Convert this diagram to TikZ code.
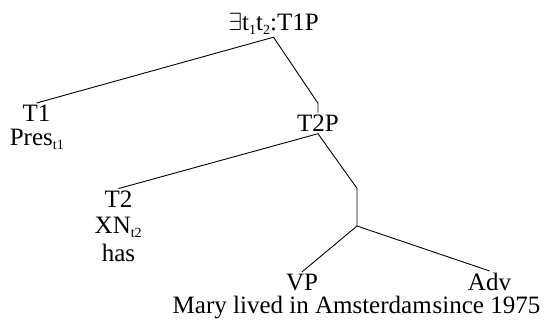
\documentclass[tikz,border=0pt]{standalone}
\usepackage{fontspec}
\setmainfont{Liberation Serif}
% small lowered index used in the labels
\newcommand\lowsub[1]{\raisebox{-4.5pt}{\fontsize{14}{14}\selectfont #1}}
\begin{document}
\begin{tikzpicture}[x=1pt,y=-1pt,
  lab/.style={font=\fontsize{25}{28}\selectfont, inner sep=2pt, anchor=base},
  branch/.style={line width=0.9pt, line join=miter}]
\useasboundingbox (0,0) rectangle (545,320);

% labels
\node[lab] (root) at (273.5,30.5) {$\exists$t\lowsub{1}t\lowsub{2}:T1P};
\node[lab] (t1)   at (36.6,121.7) {T1};
\node[lab] (pres) at (36.8,145.5) {Pres\lowsub{t1}};
\node[lab] (t2p)  at (318,131.5) {T2P};
\node[lab] (t2)   at (118.5,207.3) {T2};
\node[lab] (xn)   at (118.2,233.3) {XN\lowsub{t2}};
\node[lab] (has)  at (118.5,261) {has};
\node[lab] (vp)   at (302,290.5) {VP};
\node[lab] (adv)  at (489.5,290.5) {Adv};
\node[lab, inner sep=1pt, anchor=base west] (mary)  at (171.5,313.5) {Mary lived in Amsterdam};
\node[lab, inner sep=1pt, anchor=base east] (since) at (541.5,313.5) {since 1975};

% bends and the unlabelled branching point
\coordinate (k1) at (318,103.3);
\coordinate (k2) at (357,188.3);
\coordinate (j3) at (357,226);

% branches
\draw[branch] (t1.north) -- (root.south) -- (k1) -- (t2p.north);
\draw[branch] (t2.north) -- (t2p.south) -- (k2) -- (j3);
\draw[branch] (vp.north) -- (j3) -- (adv.north);
\end{tikzpicture}
\end{document}
